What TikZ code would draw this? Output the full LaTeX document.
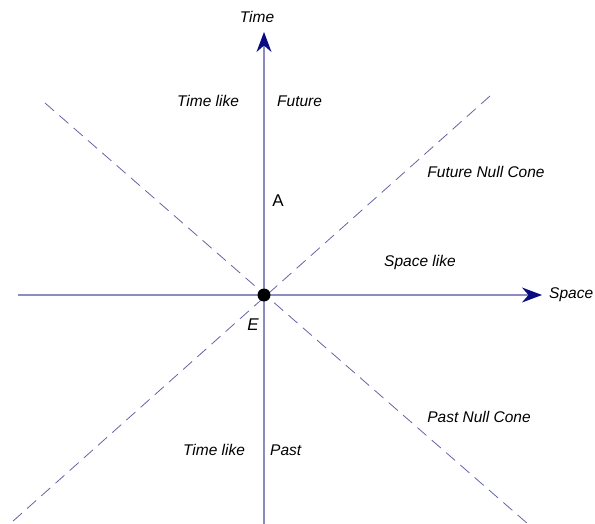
\documentclass[tikz,border=0pt]{standalone}
\usepackage{fontspec}
\setmainfont{Liberation Sans}
\usetikzlibrary{arrows.meta}
\definecolor{axisline}{RGB}{140,140,195}
\definecolor{axistip}{RGB}{10,10,130}
\definecolor{coneline}{RGB}{100,100,165}

\begin{document}
\begin{tikzpicture}[x=1pt, y=-1pt, >={Stealth[length=20pt, width=15pt, axistip]},
    lbl/.style={font=\fontsize{15.5}{18}\selectfont\itshape, inner sep=0pt},
    cone/.style={coneline, line width=0.8pt, dash pattern=on 12pt off 7pt}]
    \useasboundingbox (0,0) rectangle (595,524);
    \coordinate (origin) at (264,295);
    \coordinate (west) at (18,295);
    \coordinate (east) at (542,295);
    \coordinate (south) at (264,524);
    \coordinate (north) at (264,32);
    \coordinate (nw) at (45,103);
    \coordinate (se) at (528,524);
    \coordinate (ne) at (490,96);
    \coordinate (sw) at (12,522);
    \draw[cone] (nw) -- (se);
    \draw[cone] (ne) -- (sw);
    \draw[->, axisline, line width=1.1pt] (west) -- (east);
    \draw[->, axisline, line width=1.1pt] (south) -- (north);
    \node[circle, fill=black, inner sep=0pt, minimum size=13pt] (event) at (origin) {};
    \node[lbl] (time) at (257,17) {Time};
    \node[lbl, anchor=west] (space) at (549,295) {Space};
    \node[lbl] (tlfuture) at (208,101) {Time like};
    \node[lbl, anchor=west] (future) at (277,101) {Future};
    \node[lbl] (tlpast) at (214,450) {Time like};
    \node[lbl, anchor=west] (past) at (270,450) {Past};
    \node[lbl] (futurecone) at (486,172) {Future Null Cone};
    \node[lbl] (spacelike) at (420,262) {Space like};
    \node[lbl] (pastcone) at (479,417) {Past Null Cone};
    \node[font=\fontsize{17}{20}\selectfont, inner sep=0pt] (A) at (278,201) {A};
    \node[lbl, font=\fontsize{17}{20}\selectfont\itshape] (E) at (253,325) {E};
\end{tikzpicture}
\end{document}
